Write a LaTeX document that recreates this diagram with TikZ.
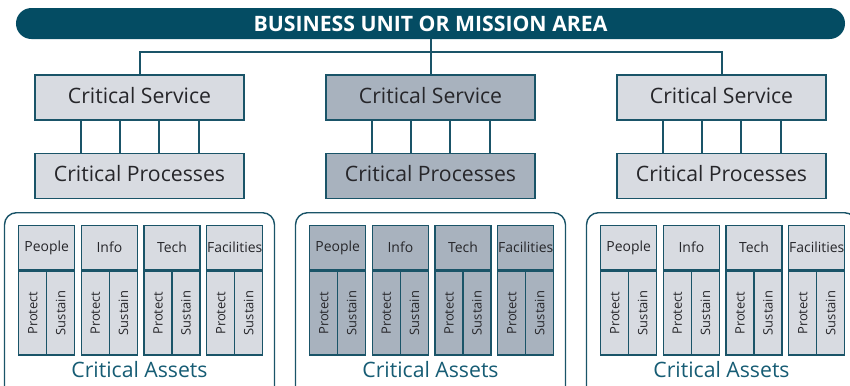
\documentclass[tikz,border=0pt]{standalone}
\usepackage{fontspec}
\setmainfont{Open Sans}
\definecolor{barteal}{RGB}{4,76,99}
\definecolor{edgeteal}{RGB}{26,84,104}
\definecolor{lightfill}{RGB}{216,219,225}
\definecolor{midfill}{RGB}{168,178,190}
\definecolor{txtgray}{RGB}{38,38,42}
\definecolor{assetteal}{RGB}{22,92,116}
\tikzset{
  bigbox/.style={draw=edgeteal, line width=1.6bp, minimum width=209bp, minimum height=45bp, inner sep=0pt, text depth=5bp, text=txtgray, font=\fontsize{21.3}{25}\selectfont},
  hdrbox/.style={draw=edgeteal, line width=1.4bp, minimum width=56bp, minimum height=44bp, inner sep=0pt, text=txtgray, font=\fontsize{14}{16}\selectfont},
  cellbox/.style={draw=edgeteal, line width=1.4bp, minimum width=28bp, minimum height=84bp, inner sep=0pt},
  celltxt/.style={rotate=90, text=txtgray, font=\fontsize{13}{15}\selectfont, inner sep=0pt},
  link/.style={draw=edgeteal, line width=2bp},
  groupbox/.style={draw=edgeteal, line width=1.4bp, rounded corners=12bp, minimum width=270bp, minimum height=190bp, inner sep=0pt, anchor=north},
}
\begin{document}
\begin{tikzpicture}[x=1bp,y=-1bp]
\clip (0,0) rectangle (850,385);
\fill[white] (0,0) rectangle (850,385);
% top bar
\node[fill=barteal, rounded corners=15.5bp, minimum width=829bp, minimum height=31bp, inner sep=0pt, text=white, font=\fontsize{21.3}{24}\selectfont\bfseries] (bar) at (430.5,23.5) {BUSINESS UNIT OR MISSION AREA};
\foreach \g/\cx/\fc in {1/139.5/lightfill, 2/430.5/midfill, 3/721.5/lightfill}{
  \node[bigbox, fill=\fc] (s\g) at (\cx,97.5) {Critical Service};
  \node[bigbox, fill=\fc] (p\g) at (\cx,176) {Critical Processes};
  \foreach \dx in {-59,-19.7,19.7,59}{
    \draw[link] ([xshift=\dx bp]s\g.south) -- ([xshift=\dx bp]p\g.north);
  }
  \node[groupbox] (a\g) at (\cx,212) {};
  \node[text=assetteal, font=\fontsize{21.3}{25}\selectfont, inner sep=0pt] (al\g) at (\cx,370) {Critical Assets};
  \foreach \k/\lab in {0/People,1/Info,2/Tech,3/Facilities}{
    \pgfmathsetmacro{\bx}{\cx-121.5+62.67*\k}
    \node[hdrbox, fill=\fc, anchor=north west] (h\g\k) at (\bx,225) {\lab};
    \node[cellbox, fill=\fc, anchor=north west] (pr\g\k) at (h\g\k.south west) {};
    \node[cellbox, fill=\fc, anchor=north east] (su\g\k) at (h\g\k.south east) {};
    \node[celltxt] at (pr\g\k.center) {Protect};
    \node[celltxt] at (su\g\k.center) {Sustain};
  }
}
% connectors from bar
\draw[link] (bar.south) -- (s2.north);
\draw[link] (s1.north) -- ++(0,-22) -| (s3.north);
\end{tikzpicture}
\end{document}
